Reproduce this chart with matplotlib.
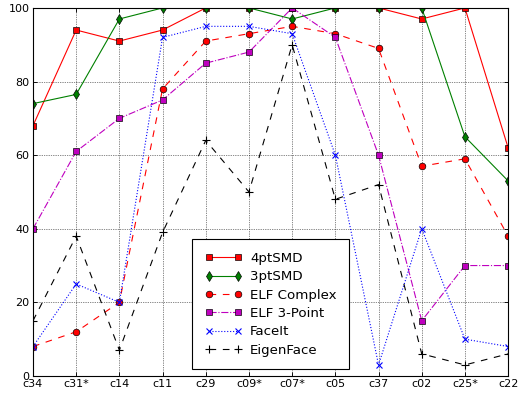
import matplotlib
matplotlib.use('Agg')
import matplotlib.pyplot as plt
import numpy as np

categories = ['c34', 'c31*', 'c14', 'c11', 'c29', 'c09*', 'c07*', 'c05', 'c37', 'c02', 'c25*', 'c22']
smd4 = [68, 94, 91, 94, 100, 100, 100, 100, 100, 97, 100, 62]
smd3 = [74, 76.5, 97, 100, 100, 100, 97, 100, 100, 100, 65, 53]
elf_complex = [8, 12, 20, 78, 91, 93, 95, 93, 89, 57, 59, 38]
elf_3point = [40, 61, 70, 75, 85, 88, 100, 92, 60, 15, 30, 30]
faceit = [8, 25, 20, 92, 95, 95, 93, 60, 3, 40, 10, 8]
eigenface = [15, 38, 7, 39, 64, 50, 90, 48, 52, 6, 3, 6]


def main():
    fig = plt.figure(figsize=(521 / 80, 397 / 80), dpi=80)
    ax = fig.add_axes([0.0633, 0.053, 0.912, 0.927])
    x = np.arange(len(categories))
    mk = dict(markersize=6, markeredgecolor='k', markeredgewidth=0.6, linewidth=1)
    ax.plot(x, smd4, 'rs-', label='4ptSMD', **mk)
    ax.plot(x, smd3, 'd-', color=(0, 0.5, 0), label='3ptSMD', **mk)
    ax.plot(x, elf_complex, 'ro--', label='ELF Complex', dashes=(6, 6), **mk)
    ax.plot(x, elf_3point, 's-.', color=(0.75, 0, 0.75), label='ELF 3-Point', **mk)
    ax.plot(x, faceit, 'bx:', label='FaceIt', markersize=6, linewidth=1)
    ax.plot(x, eigenface, 'k+--', label='EigenFace', dashes=(6, 6), markersize=7, linewidth=1)

    ax.set_xlim(0, len(categories) - 1)
    ax.set_ylim(0, 100)
    ax.set_xticks(x)
    ax.set_xticklabels(categories)
    ax.set_yticks(np.arange(0, 101, 20))
    ax.tick_params(direction='in', top=True, right=True, labelsize=10, length=4, pad=3)
    ax.grid(True, color='k', linestyle=':', linewidth=0.6)
    for sp in ax.spines.values():
        sp.set_linewidth(1)

    leg = ax.legend(loc='lower center', numpoints=2, fontsize=12, fancybox=False,
                    framealpha=1, edgecolor='k', borderaxespad=0.5, borderpad=0.95,
                    handlelength=2.8, handletextpad=0.6, labelspacing=0.4)
    leg.get_frame().set_linewidth(1)
    fig.savefig('out.png', dpi=80)


if __name__ == '__main__':
    main()
